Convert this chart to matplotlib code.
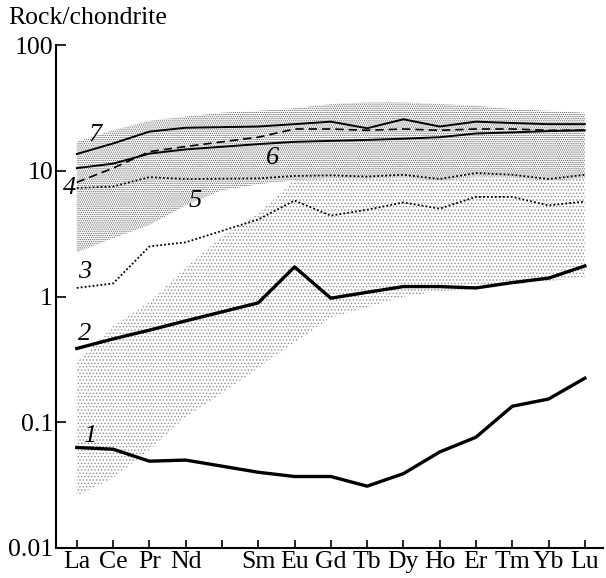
import numpy as np
import matplotlib.pyplot as plt

plt.rcParams['font.family'] = ['Liberation Serif', 'DejaVu Serif']
plt.rcParams['hatch.linewidth'] = 0.6

# REE in order of atomic number; Pm has a tick but no label and no data
elements = ['La', 'Ce', 'Pr', 'Nd', 'Pm', 'Sm', 'Eu', 'Gd', 'Tb', 'Dy', 'Ho', 'Er', 'Tm', 'Yb', 'Lu']
tick_labels = ['La', 'Ce', 'Pr', 'Nd', '', 'Sm', 'Eu', 'Gd', 'Tb', 'Dy', 'Ho', 'Er', 'Tm', 'Yb', 'Lu']
measured = ['La', 'Ce', 'Pr', 'Nd', 'Sm', 'Eu', 'Gd', 'Tb', 'Dy', 'Ho', 'Er', 'Tm', 'Yb', 'Lu']

# chondrite-normalised patterns
curve1 = [0.063, 0.061, 0.049, 0.050, 0.040, 0.037, 0.037, 0.031, 0.039, 0.058, 0.076, 0.134, 0.153, 0.224]
curve2 = [0.386, 0.46, 0.54, 0.64, 0.89, 1.72, 0.97, 1.08, 1.20, 1.20, 1.17, 1.29, 1.40, 1.75]
curve3 = [1.17, 1.27, 2.5, 2.7, 4.1, 5.8, 4.4, 4.9, 5.6, 5.0, 6.2, 6.2, 5.3, 5.7]
curve4 = [8.1, 10.5, 14.2, 15.6, 18.5, 21.5, 21.5, 21.0, 21.5, 21.0, 21.5, 21.5, 21.0, 21.0]
curve5 = [7.3, 7.5, 8.9, 8.6, 8.7, 9.1, 9.2, 9.0, 9.3, 8.6, 9.6, 9.3, 8.6, 9.3]
curve6 = [10.5, 11.4, 13.7, 14.8, 16.3, 17.0, 17.3, 17.6, 18.0, 18.5, 19.8, 20.2, 20.7, 21.0]
curve7 = [13.6, 16.5, 20.5, 22.0, 22.5, 23.5, 24.6, 21.8, 25.7, 22.5, 24.6, 24.0, 23.5, 23.5]

# shaded fields, given at every position La..Lu (Pm included)
dense_lo = [2.25, 2.9, 3.7, 5.3, 7.0, 7.8, 8.4, 8.7, 8.6, 8.8, 8.3, 8.9, 8.8, 8.3, 8.7]
dense_hi = [17, 21, 25, 27, 29, 30, 31.5, 34, 35, 35, 34, 33, 31, 30, 29]
light_lo = [0.026, 0.036, 0.06, 0.11, 0.17, 0.27, 0.43, 0.68, 0.82, 1.0, 1.1, 1.15, 1.25, 1.32, 1.42]
light_hi = [0.30, 0.58, 0.9, 1.7, 3.0, 4.6, 8.4, 8.7, 8.6, 8.8, 8.3, 8.9, 8.8, 8.3, 8.7]

# curve labels: (text, element position, value)
label_text = ['1', '2', '3', '4', '5', '6', '7']
label_x = [0.36, 0.22, 0.22, -0.2, 3.25, 5.4, 0.5]
label_y = [0.078, 0.50, 1.56, 7.3, 5.7, 12.7, 19.3]

pos_all = np.arange(len(elements))
pos = np.array([elements.index(e) for e in measured])

fig = plt.figure(figsize=(6.06, 5.78), dpi=100)
ax = fig.add_axes([0.092, 0.052, 0.903, 0.870])

ax.fill_between(pos_all, light_lo, light_hi, facecolor='none', edgecolor='#8a8a8a',
                hatch='.....', linewidth=0)
ax.fill_between(pos_all, dense_lo, dense_hi, facecolor='none', edgecolor='#5e5e5e',
                hatch='........', linewidth=0)

ax.plot(pos, curve1, color='black', lw=2.4)
ax.plot(pos, curve2, color='black', lw=2.4)
ax.plot(pos, curve3, color='black', lw=1.3, linestyle=(0, (1, 1.2)))
ax.plot(pos, curve4, color='black', lw=1.2, linestyle=(0, (5, 3)))
ax.plot(pos, curve5, color='black', lw=1.3, linestyle=(0, (1, 1.2)))
ax.plot(pos, curve6, color='black', lw=1.4)
ax.plot(pos, curve7, color='black', lw=1.4)

for t, x, y in zip(label_text, label_x, label_y):
    ax.text(x, y, t, fontsize=19, style='italic', ha='center', va='center')

ax.set_yscale('log')
ax.set_ylim(0.01, 100)
ax.set_xlim(-0.58, 14.5)
ax.set_yticks([0.01, 0.1, 1, 10, 100])
ax.set_yticklabels(['0.01', '0.1', '1', '10', '100'])
ax.yaxis.set_minor_locator(plt.NullLocator())
ax.set_xticks(pos_all)
ax.set_xticklabels(tick_labels)

for side in ['top', 'right']:
    ax.spines[side].set_visible(False)
for side in ['left', 'bottom']:
    ax.spines[side].set_linewidth(1.5)
ax.tick_params(axis='x', direction='in', length=6, width=1.2, labelsize=18.5, pad=2)
ax.tick_params(axis='y', direction='in', length=7, width=1.2, labelsize=18.5, pad=2)

fig.text(0.013, 0.968, 'Rock/chondrite', fontsize=18.5, ha='left', va='center')

fig.savefig('out.png', dpi=100)
